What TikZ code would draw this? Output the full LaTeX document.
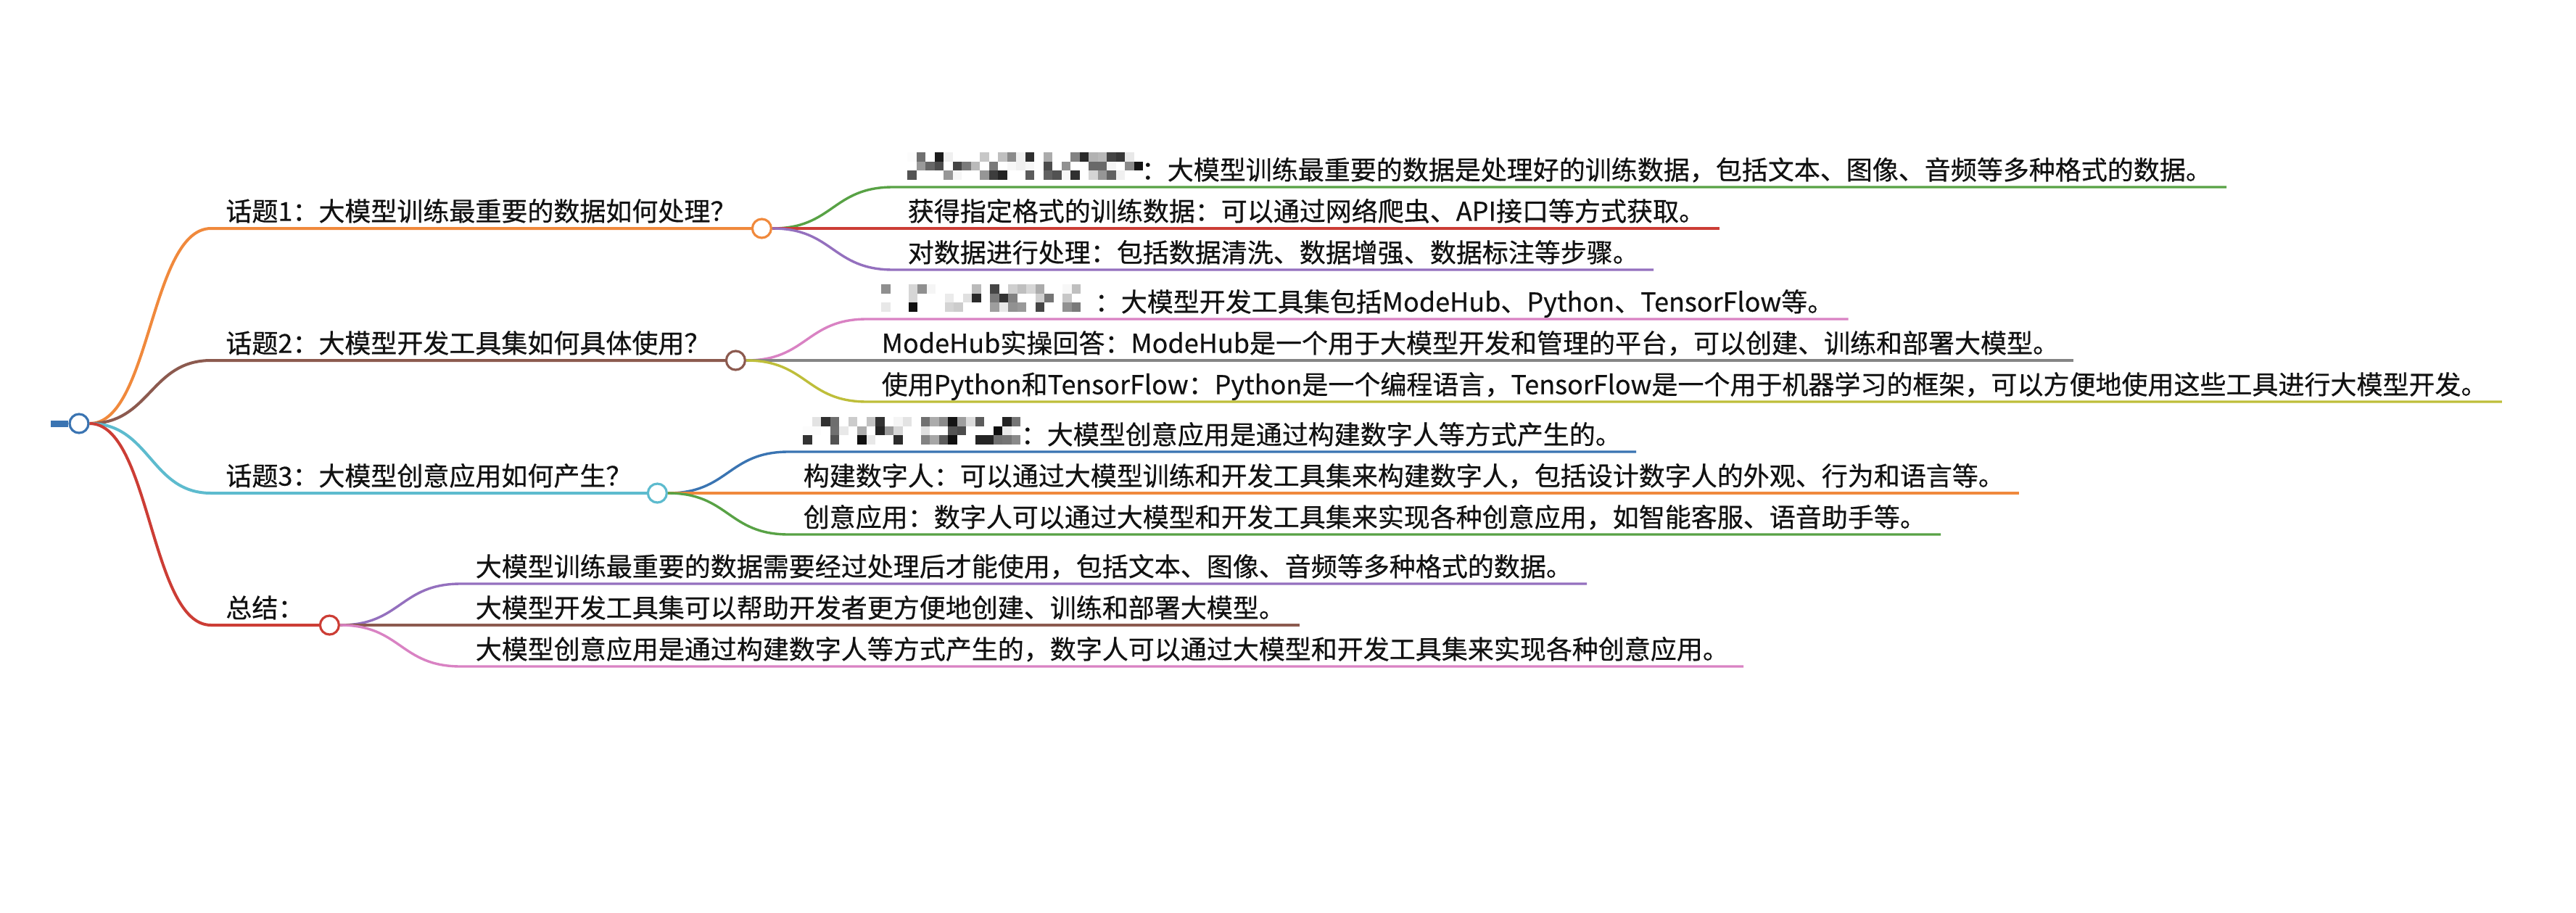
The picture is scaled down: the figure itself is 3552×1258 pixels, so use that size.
\documentclass[tikz,border=0pt]{standalone}
\usepackage{fontspec}
\setmainfont{Noto Sans CJK SC}[FakeBold=0.5]
\usepackage{tikz}
\usetikzlibrary{positioning,calc}
\definecolor{rootblue}{HTML}{3A74B2}
\definecolor{mmorange}{HTML}{F0893C}
\definecolor{mmbrown}{HTML}{8C5A4F}
\definecolor{mmcyan}{HTML}{5DBBCE}
\definecolor{mmred}{HTML}{CC3D35}
\definecolor{mmgreen}{HTML}{58A245}
\definecolor{mmpurple}{HTML}{9470BE}
\definecolor{mmpink}{HTML}{D982C3}
\definecolor{mmgray}{HTML}{858585}
\definecolor{mmolive}{HTML}{BEBE3A}
\definecolor{ink}{HTML}{111111}
\tikzset{
  topic/.style={anchor=south west,inner xsep=10pt,inner ysep=5pt,text height=13pt,
    text depth=0pt,text=ink,font=\fontsize{18}{22}\selectfont},
  leaf/.style={topic},
  hub/.style={circle,draw=#1,line width=1.6pt,fill=white,minimum size=13pt,inner sep=0pt},
  link/.style={line width=2pt,to path={.. controls +(84,0) and +(-84,0) .. (\tikztotarget)}},
  twig/.style={link,line width=1.7pt}
}
% pixelated (blurred) part of a leaf text
\newcommand{\mosaic}[2]{%
  \foreach \mc in {1,...,#2}{
    \foreach \mr in {0,1,2}{
      \pgfmathrandominteger{\mg}{0}{99}
      \ifnum\mg>40
        \pgfmathtruncatemacro{\ms}{(\mg-40)*1.6}
        \fill[black!\ms] ($(#1.base west)+(7.5+\mc*12.5,-\mr*12.5)$) rectangle +(12.5,-12.5);
      \fi
    }
  }}

\begin{document}
\begin{tikzpicture}[x=0.5pt,y=-0.5pt]
  \useasboundingbox (0,0) rectangle (3552,1258);
  \pgfmathsetseed{42}

  % root
  \node[hub=rootblue] (root) at (109,584) {};
  \coordinate (stub) at (70,584);
  \draw[rootblue,line width=4.5pt] (stub) -- (root.west);

  % topics
  \node[topic] (t1) at (291,315) {话题1：大模型训练最重要的数据如何处理？};
  \node[topic] (t2) at (291,497) {话题2：大模型开发工具集如何具体使用？};
  \node[topic] (t3) at (291,680) {话题3：大模型创意应用如何产生？};
  \node[topic] (t4) at (291,862) {总结：};

  \draw[link,mmorange] (root.east) to (t1.south west) -- (t1.south east);
  \draw[link,mmbrown] (root.east) to (t2.south west) -- (t2.south east);
  \draw[link,mmcyan] (root.east) to (t3.south west) -- (t3.south east);
  \draw[link,mmred] (root.east) to (t4.south west) -- (t4.south east);

  \node[hub=mmorange,right=0pt of t1.south east] (h1) {};
  \node[hub=mmbrown,right=0pt of t2.south east] (h2) {};
  \node[hub=mmcyan,right=0pt of t3.south east] (h3) {};
  \node[hub=mmred,right=0pt of t4.south east] (h4) {};

  % topic 1
  \node[leaf,above right=28.5pt and 90.5pt of h1.center,anchor=south west] (a1)
    {\hspace*{161pt}：大模型训练最重要的数据是处理好的训练数据，包括文本、图像、音频等多种格式的数据。};
  \node[leaf,right=90.5pt of h1.center,anchor=south west] (a2)
    {获得指定格式的训练数据：可以通过网络爬虫、API接口等方式获取。};
  \node[leaf,below right=28.5pt and 90.5pt of h1.center,anchor=south west] (a3)
    {对数据进行处理：包括数据清洗、数据增强、数据标注等步骤。};
  \draw[twig,mmgreen] (h1.east) to (a1.south west) -- (a1.south east);
  \draw[twig,mmred] (h1.east) to (a2.south west) -- (a2.south east);
  \draw[twig,mmpurple] (h1.east) to (a3.south west) -- (a3.south east);
  \mosaic{a1}{26}

  % topic 2
  \node[leaf,above right=28.5pt and 90.5pt of h2.center,anchor=south west] (b1)
    {\hspace*{147pt}：大模型开发工具集包括ModeHub、Python、TensorFlow等。};
  \node[leaf,right=90.5pt of h2.center,anchor=south west] (b2)
    {ModeHub实操回答：ModeHub是一个用于大模型开发和管理的平台，可以创建、训练和部署大模型。};
  \node[leaf,below right=28.5pt and 90.5pt of h2.center,anchor=south west] (b3)
    {使用Python和TensorFlow：Python是一个编程语言，TensorFlow是一个用于机器学习的框架，可以方便地使用这些工具进行大模型开发。};
  \draw[twig,mmpink] (h2.east) to (b1.south west) -- (b1.south east);
  \draw[twig,mmgray] (h2.east) to (b2.south west) -- (b2.south east);
  \draw[twig,mmolive] (h2.east) to (b3.south west) -- (b3.south east);
  \mosaic{b1}{23}

  % topic 3
  \node[leaf,above right=28.5pt and 90.5pt of h3.center,anchor=south west] (c1)
    {\hspace*{150pt}：大模型创意应用是通过构建数字人等方式产生的。};
  \node[leaf,right=90.5pt of h3.center,anchor=south west] (c2)
    {构建数字人：可以通过大模型训练和开发工具集来构建数字人，包括设计数字人的外观、行为和语言等。};
  \node[leaf,below right=28.5pt and 90.5pt of h3.center,anchor=south west] (c3)
    {创意应用：数字人可以通过大模型和开发工具集来实现各种创意应用，如智能客服、语音助手等。};
  \draw[twig,rootblue] (h3.east) to (c1.south west) -- (c1.south east);
  \draw[twig,mmorange] (h3.east) to (c2.south west) -- (c2.south east);
  \draw[twig,mmgreen] (h3.east) to (c3.south west) -- (c3.south east);
  \mosaic{c1}{24}

  % summary
  \node[leaf,above right=28.5pt and 90.5pt of h4.center,anchor=south west] (d1)
    {大模型训练最重要的数据需要经过处理后才能使用，包括文本、图像、音频等多种格式的数据。};
  \node[leaf,right=90.5pt of h4.center,anchor=south west] (d2)
    {大模型开发工具集可以帮助开发者更方便地创建、训练和部署大模型。};
  \node[leaf,below right=28.5pt and 90.5pt of h4.center,anchor=south west] (d3)
    {大模型创意应用是通过构建数字人等方式产生的，数字人可以通过大模型和开发工具集来实现各种创意应用。};
  \draw[twig,mmpurple] (h4.east) to (d1.south west) -- (d1.south east);
  \draw[twig,mmbrown] (h4.east) to (d2.south west) -- (d2.south east);
  \draw[twig,mmpink] (h4.east) to (d3.south west) -- (d3.south east);
\end{tikzpicture}
\end{document}
